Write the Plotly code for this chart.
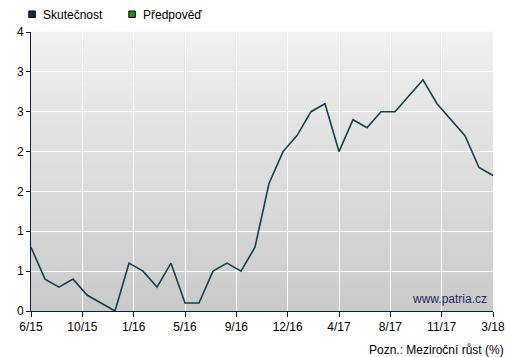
import plotly.graph_objects as go

# ---- data ----
months = ["6/15", "7/15", "8/15", "9/15", "10/15", "11/15", "12/15",
          "1/16", "2/16", "3/16", "4/16", "5/16", "6/16", "7/16", "8/16", "9/16", "10/16", "11/16", "12/16",
          "1/17", "2/17", "3/17", "4/17", "5/17", "6/17", "7/17", "8/17", "9/17", "10/17", "11/17", "12/17",
          "1/18", "2/18", "3/18"]
skutecnost = [0.8, 0.4, 0.3, 0.4, 0.2, 0.1, 0.0,
              0.6, 0.5, 0.3, 0.6, 0.1, 0.1, 0.5, 0.6, 0.5, 0.8, 1.6, 2.0,
              2.2, 2.5, 2.6, 2.0, 2.4, 2.3, 2.5, 2.5, 2.7, 2.9, 2.6, 2.4,
              2.2, 1.8, 1.7]
x_tick_labels = ["6/15", "10/15", "1/16", "5/16", "9/16", "12/16", "4/17", "8/17", "11/17", "3/18"]
y_tick_vals = [0, 0.5, 1.0, 1.5, 2.0, 2.5, 3.0, 3.5]
y_tick_labels = ["0", "1", "1", "2", "2", "3", "3", "4"]
legend_names = ["Skutečnost", "Předpověď"]
legend_colors = ["#0d2a52", "#1f8c1f"]

NAVY = "#0b1f4b"
FONT = "Liberation Sans, Arial, sans-serif"

xi = list(range(len(months)))
n_int = len(x_tick_labels) - 1
x_tick_vals = [k * (len(months) - 1) / n_int for k in range(len(x_tick_labels))]

fig = go.Figure()
fig.add_trace(go.Scatter(x=xi, y=skutecnost, mode="lines", text=months,
                         name=legend_names[0],
                         line=dict(color="#12424a", width=1.6), showlegend=False,
                         hovertemplate="%{text}: %{y}<extra></extra>"))

# vertical gradient background
shapes = []
N = 40
top = (240, 240, 240)
bot = (202, 202, 202)
for i in range(N):
    t = (i + 0.5) / N
    c = tuple(round(top[j] + (bot[j] - top[j]) * t) for j in range(3))
    shapes.append(dict(type="rect", xref="paper", yref="paper", x0=0, x1=1,
                       y0=1 - (i + 1) / N, y1=1 - i / N + 0.001, layer="below",
                       line=dict(width=0), fillcolor="rgb(%d,%d,%d)" % c))

annotations = []
# hand-drawn legend (squares + labels) above the plot area
for k, (name, col) in enumerate(zip(legend_names, legend_colors)):
    off = k * 100
    shapes.append(dict(type="rect", xref="paper", yref="paper",
                       xsizemode="pixel", ysizemode="pixel", xanchor=0, yanchor=1,
                       x0=-2.2 + off, x1=4.3 + off, y0=14.5, y1=21,
                       fillcolor=col, line=dict(color="#000000", width=1)))
    annotations.append(dict(text=name, xref="paper", yref="paper", x=0, y=1,
                            xshift=10 + off, yshift=17.5, xanchor="left", yanchor="middle",
                            showarrow=False,
                            font=dict(family=FONT, size=12, color="#000000")))

annotations += [
    dict(text="www.patria.cz", xref="paper", yref="paper", x=1, y=0,
         xshift=-4, yshift=12, xanchor="right", yanchor="middle", showarrow=False,
         font=dict(family=FONT, size=12, color="#1a2a66")),
    dict(text="Pozn.: Meziroční růst (%)", xref="paper", yref="paper", x=1, y=0,
         xshift=13, yshift=-39, xanchor="right", yanchor="middle", showarrow=False,
         font=dict(family=FONT, size=12, color="#000000")),
]

fig.update_layout(
    width=509, height=357,
    margin=dict(l=31, r=16, t=32, b=46),
    paper_bgcolor="white", plot_bgcolor="#dddddd",
    font=dict(family=FONT, size=12, color=NAVY),
    shapes=shapes,
    showlegend=False,
    annotations=annotations,
)
fig.update_xaxes(range=[0, len(months) - 1], tickvals=x_tick_vals, ticktext=x_tick_labels,
                 showgrid=True, gridcolor="white", gridwidth=1,
                 showline=True, linecolor=NAVY, linewidth=1,
                 ticks="outside", ticklen=5, tickcolor=NAVY, zeroline=False,
                 automargin=False,
                 tickfont=dict(family=FONT, size=12, color="#000000"))
fig.update_yaxes(range=[0, 3.5], tickvals=y_tick_vals, ticktext=y_tick_labels,
                 showgrid=True, gridcolor="white", gridwidth=1,
                 showline=True, linecolor=NAVY, linewidth=1,
                 ticks="outside", ticklen=4, tickcolor=NAVY, zeroline=False,
                 automargin=False,
                 tickfont=dict(family=FONT, size=12, color="#000000"))

fig.write_html("out.html", config={"displayModeBar": False},
               post_script="document.body.style.margin='0';")
